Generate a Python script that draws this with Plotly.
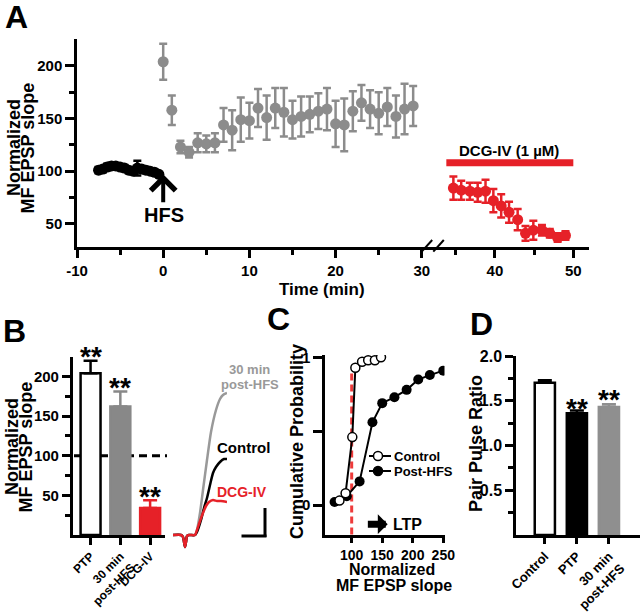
import plotly.graph_objects as go

W, H = 640, 612
FONT = "Liberation Sans, Arial, sans-serif"
GRAY = "#8c8c8c"
RED = "#e62128"

# ---- panel A: time course ----
base_t = [-7.5, -7, -6.5, -6, -5.5, -5, -4.5, -4, -3.5, -3, -2.5, -2, -1.5, -1, -0.5]
base_v = [101, 102, 104, 105, 105, 104, 103, 101, 100, 103, 102, 101, 100, 99, 97]
base_e = [3, 3, 3, 3, 2, 2, 3, 3, 3, 7, 3, 3, 2, 2, 2]

hfs_t = list(range(0, 30))
hfs_v = [204, 158, 123, 118, 127, 126, 127, 144, 139, 149, 148, 160, 151, 160, 156,
         149, 152, 154, 157, 159, 145, 144, 157, 165, 159, 155, 161, 152, 159, 162]
hfs_e = [17, 14, 6, 5, 9, 8, 9, 16, 19, 21, 17, 18, 21, 19, 23,
         18, 19, 17, 17, 20, 22, 25, 19, 17, 18, 20, 18, 20, 24, 19]

dcg_t = [34.7, 35.7, 36.8, 37.8, 38.8, 39.8, 40.8, 41.8, 42.9, 43.9, 44.9, 46.0, 47.0, 48.0, 49.0]
dcg_v = [84, 82, 81, 80, 81, 72, 67, 61, 54, 41, 44, 44, 41, 37, 39]
dcg_e = [11, 9, 8, 9, 11, 11, 11, 10, 10, 7, 9, 5, 4, 4, 4]

a_xticks = [-10, 0, 10, 20, 30]
a_xlabels = ["-10", "0", "10", "20", "30"]

# ---- panel B: summary bars ----
b_cats = ["PTP", "30 min<br>post-HFS", "DCG-IV"]
b_vals = [204, 162, 34]
b_errs = [16, 19, 10]

# EPSP example traces (arbitrary units)
tr_base_t = [0, 8, 10, 12, 13, 14, 16, 22]
tr_base_v = [0, 0, -2, -12, -7, -1, 0, 0]
tr_post_t = [24, 27, 30, 34, 38, 43, 47, 50, 54]
tr_post_v = [5, 22, 45, 75, 103, 125, 136, 140, 142]
tr_ctrl_t = [24, 28, 31, 34, 37, 40, 43, 47, 51, 54]
tr_ctrl_v = [3, 15, 27, 37, 50, 62, 68, 73, 76, 76]
tr_dcg_t = [24, 27, 30, 33, 36, 40, 44, 48, 54]
tr_dcg_v = [5, 14, 22, 29, 33, 35, 34, 34, 33]

# ---- panel C: cumulative probability ----
c_ctrl_x = [80, 90, 101, 106, 117, 127, 138, 148]
c_ctrl_y = [0.03, 0.08, 0.46, 0.93, 0.97, 0.98, 0.98, 1.0]
c_post_x = [72, 92, 113, 134, 150, 170, 190, 209, 228, 250]
c_post_y = [0.02, 0.06, 0.16, 0.56, 0.69, 0.73, 0.78, 0.85, 0.88, 0.91]

# ---- panel D: paired pulse ratio ----
d_cats = ["Control", "PTP", "30 min<br>post-HFS"]
d_vals = [1.70, 1.36, 1.43]
d_errs = [0.03, 0.03, 0.03]


def px(x):
    return x / W


def py(y):
    return 1 - y / H


fig = go.Figure()

ebar = dict(type="data", thickness=2.5, width=4)

fig.add_trace(go.Scatter(x=hfs_t, y=hfs_v, mode="markers", xaxis="x", yaxis="y",
                         marker=dict(color=GRAY, size=11),
                         error_y=dict(array=hfs_e, color=GRAY, **ebar)))
fig.add_trace(go.Scatter(x=base_t, y=base_v, mode="markers", xaxis="x", yaxis="y",
                         marker=dict(color="black", size=11),
                         error_y=dict(array=base_e, color="black", **ebar)))
fig.add_trace(go.Scatter(x=dcg_t, y=dcg_v, mode="markers", xaxis="x2", yaxis="y",
                         marker=dict(color=RED, size=11),
                         error_y=dict(array=dcg_e, color=RED, **ebar)))

# panel B bars
fig.add_trace(go.Bar(x=[0, 1, 2], y=b_vals, xaxis="x3", yaxis="y3", width=0.67,
                     marker=dict(color=["white", "#888888", RED],
                                 line=dict(color=["black", "#888888", RED], width=2.5))))
for i, col in enumerate(["black", "#888888", RED]):
    fig.add_trace(go.Scatter(x=[i], y=[b_vals[i]], mode="markers", xaxis="x3", yaxis="y3",
                             marker=dict(size=1, opacity=0),
                             error_y=dict(type="data", array=[b_errs[i]], arrayminus=[0],
                                          color=col, thickness=2.5, width=7)))

# example traces
for tt, vv, col in [(tr_post_t, tr_post_v, "#999999"), (tr_ctrl_t, tr_ctrl_v, "black"),
                    (tr_dcg_t, tr_dcg_v, RED)]:
    fig.add_trace(go.Scatter(x=tr_base_t + tt, y=tr_base_v + vv, mode="lines",
                             xaxis="x4", yaxis="y4",
                             line=dict(color=col, width=2.5, shape="spline", smoothing=0.6)))

# panel C
fig.add_trace(go.Scatter(x=c_post_x, y=c_post_y, mode="lines+markers", xaxis="x5", yaxis="y5",
                         line=dict(color="black", width=2),
                         marker=dict(color="black", size=10)))
fig.add_trace(go.Scatter(x=c_ctrl_x, y=c_ctrl_y, mode="lines+markers", xaxis="x5", yaxis="y5",
                         line=dict(color="black", width=2),
                         marker=dict(color="white", size=9, line=dict(color="black", width=1.5))))

# panel D
fig.add_trace(go.Bar(x=[0, 1, 2], y=d_vals, xaxis="x6", yaxis="y6", width=0.63,
                     marker=dict(color=["white", "black", "#8f8f8f"],
                                 line=dict(color=["black", "black", "#8f8f8f"], width=2.5))))
for i, col in enumerate(["black", "black", "#8f8f8f"]):
    fig.add_trace(go.Scatter(x=[i], y=[d_vals[i]], mode="markers", xaxis="x6", yaxis="y6",
                             marker=dict(size=1, opacity=0),
                             error_y=dict(type="data", array=[d_errs[i]], arrayminus=[0],
                                          color=col, thickness=2.5, width=7)))

ax_common = dict(showline=True, linewidth=2.5, linecolor="black", ticks="outside",
                 tickwidth=2.5, tickcolor="black", showgrid=False, zeroline=False,
                 automargin=False, fixedrange=True)
minor = lambda vals, ln=5: dict(tickvals=vals, ticks="outside", ticklen=ln,
                                tickwidth=2.5, tickcolor="black", showgrid=False)
hidden = dict(visible=False, fixedrange=True, automargin=False)


def tf(size):
    return dict(family=FONT, size=size, color="black", weight="bold")


fig.update_layout(
    width=W, height=H, margin=dict(l=0, r=0, t=0, b=0, autoexpand=False),
    paper_bgcolor="white", plot_bgcolor="rgba(0,0,0,0)", showlegend=False,
    font=dict(family=FONT, color="black"),
    xaxis=dict(domain=[px(77), px(433)], range=[-10, 31.3], anchor="y", tickfont=tf(15),
               tickvals=a_xticks, ticktext=a_xlabels, ticklen=8,
               minor=minor([-5, 5, 15, 25]), **ax_common),
    xaxis2=dict(domain=[px(433), px(589)], range=[32.1, 52], anchor="y", tickfont=tf(15),
                tickvals=[40, 50], ticklen=8, minor=minor([35, 45]), **ax_common),
    yaxis=dict(domain=[py(247), py(39)], range=[28, 225.6], anchor="x", tickfont=tf(15),
               tickvals=[50, 100, 150, 200], ticklen=9, minor=minor([75, 125, 175]), **ax_common),
    xaxis3=dict(domain=[px(72.7), px(165)], range=[-0.6, 2.5], anchor="y3", tickfont=tf(12),
                tickvals=[0, 1, 2], ticktext=b_cats, tickangle=-45, ticklen=7, **ax_common),
    yaxis3=dict(domain=[py(535), py(356.7)], range=[0, 225], anchor="x3", tickfont=tf(15),
                tickvals=[50, 100, 150, 200], ticklen=8, minor=minor([25, 75, 125, 175]), **ax_common),
    xaxis4=dict(domain=[px(173), px(227)], range=[0, 54], anchor="y4", **hidden),
    yaxis4=dict(domain=[py(550), py(385)], range=[-15, 150], anchor="x4", **hidden),
    xaxis5=dict(domain=[px(325), px(444.5)], range=[56.3, 252], anchor="y5", tickfont=tf(14),
                tickvals=[100, 150, 200, 250], ticklen=5, **ax_common),
    yaxis5=dict(domain=[py(535), py(355)], range=[-0.203, 1.016], anchor="x5", tickfont=tf(15),
                tickvals=[0, 0.5, 1], ticktext=["0", "", "1"], ticklen=9, **ax_common),
    xaxis6=dict(domain=[px(516), 1], range=[-0.9, 2.97], anchor="y6", tickfont=tf(13),
                tickvals=[0, 1, 2], ticktext=d_cats, tickangle=-45, ticklen=6, **ax_common),
    yaxis6=dict(domain=[py(535), py(356)], range=[0, 2.0], anchor="x6", tickfont=tf(16),
                tickvals=[0.5, 1, 1.5, 2], ticktext=["0.5", "1.0", "1.5", "2.0"], ticklen=8,
                minor=minor([0.25, 0.75, 1.25, 1.75]), **ax_common),
)

shapes = []
# axis break marks
for x0 in (421.7, 433.3):
    shapes.append(dict(type="line", xref="paper", yref="paper", x0=px(x0), y0=py(251.7),
                       x1=px(x0 + 10.5), y1=py(240), line=dict(color="black", width=2)))
# DCG-IV application bar
shapes.append(dict(type="line", xref="x2", yref="y", x0=33.8, x1=50, y0=108, y1=108,
                   line=dict(color=RED, width=7)))
# control level in B
shapes.append(dict(type="line", xref="paper", yref="y3", x0=px(74), x1=px(167), y0=100, y1=100,
                   layer="below", line=dict(color="black", width=3, dash="8px,5px")))
# scale bar
shapes.append(dict(type="line", xref="paper", yref="paper", x0=px(265), x1=px(265),
                   y0=py(508), y1=py(537), line=dict(color="black", width=3)))
shapes.append(dict(type="line", xref="paper", yref="paper", x0=px(241.5), x1=px(266.5),
                   y0=py(536), y1=py(536), line=dict(color="black", width=3)))
# red dashed in C
shapes.append(dict(type="line", xref="x5", yref="y5", x0=100, x1=100, y0=-0.2, y1=0.9,
                   layer="below", line=dict(color="#ee3b3b", width=3, dash="7px,4px")))
# legend glyphs in C
for yy, fill in [(456, "white"), (471, "black")]:
    shapes.append(dict(type="line", xref="paper", yref="paper", x0=px(369), x1=px(391),
                       y0=py(yy), y1=py(yy), line=dict(color="black", width=2)))
    shapes.append(dict(type="circle", xref="paper", yref="paper", xsizemode="pixel",
                       ysizemode="pixel", xanchor=px(378), yanchor=py(yy),
                       x0=-4.5, x1=4.5, y0=-4.5, y1=4.5, fillcolor=fill,
                       line=dict(color="black", width=1.5)))
fig.update_layout(shapes=shapes)


def txt(x, y, s, size=15, color="black", angle=0, xanchor="center"):
    return dict(x=px(x), y=py(y), xref="paper", yref="paper", text=s, showarrow=False,
                textangle=angle, xanchor=xanchor, yanchor="middle",
                font=dict(family=FONT, size=size, color=color, weight="bold"))


ann = [
    txt(16, 17, "A", 32), txt(14, 331, "B", 32), txt(278, 319, "C", 32), txt(481, 324, "D", 32),
    txt(14, 148, "Normalized", 18, angle=-90),
    txt(27.5, 148, "MF EPSP slope", 18, angle=-90),
    txt(322, 289, "Time (min)", 17),
    txt(164, 215, "HFS", 20),
    txt(509, 150, "DCG-IV (1 µM)", 15),
    txt(12, 447, "Normalized", 18, angle=-90),
    txt(25.5, 447, "MF EPSP slope", 18, angle=-90),
    txt(249, 369, "30 min", 13, color="#999999"),
    txt(250, 384, "post-HFS", 13, color="#999999"),
    txt(243, 447, "Control", 15),
    txt(242, 492, "DCG-IV", 14, color=RED),
    txt(297, 442, "Cumulative Probability", 18, angle=-90),
    txt(392, 569, "Normalized", 16),
    txt(394, 585, "MF EPSP slope", 16),
    txt(392, 456, "Control", 13, xanchor="left"),
    txt(392, 471, "Post-HFS", 13, xanchor="left"),
    txt(407, 524, "LTP", 16),
    txt(476, 444, "Pair Pulse Ratio", 18, angle=-90),
]
for xx, yy in [(90.5, 356), (120.2, 387), (149.5, 496)]:
    ann.append(txt(xx, yy, "**", 28))
for xx, yy in [(577, 408), (609, 399)]:
    ann.append(txt(xx, yy, "**", 28))

# arrows
ann.append(dict(x=0, y=97, xref="x", yref="y", ax=0, ay=69, axref="x", ayref="y",
                text="", showarrow=True, arrowhead=4, arrowsize=1.2, arrowwidth=4,
                arrowcolor="black"))
ann.append(dict(x=159, y=-0.13, xref="x5", yref="y5", ax=124, ay=-0.13, axref="x5", ayref="y5",
                text="", showarrow=True, arrowhead=1, arrowsize=0.47, arrowwidth=7,
                arrowcolor="black"))
fig.update_layout(annotations=ann)

fig.write_html("out.html", config={"displayModeBar": False},
               post_script="document.body.style.margin='0';")
